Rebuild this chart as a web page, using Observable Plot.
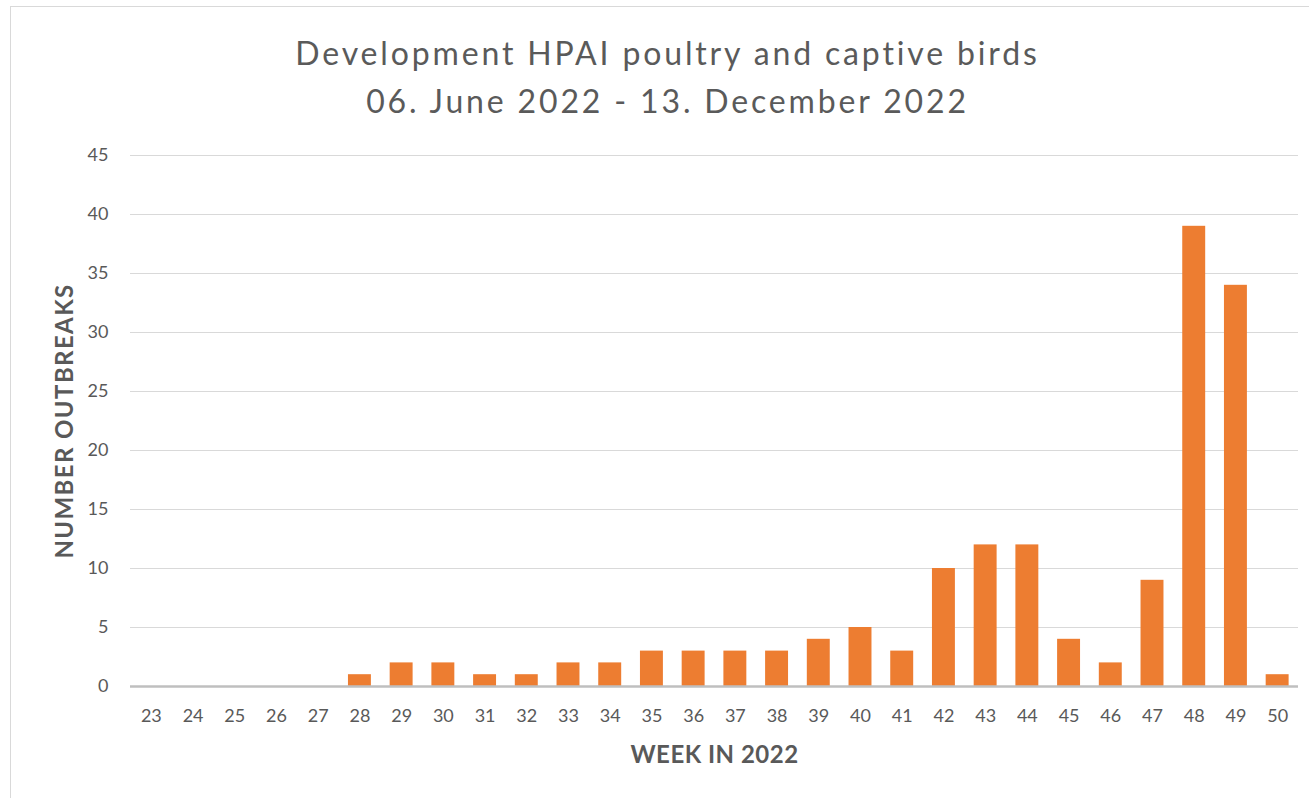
<!DOCTYPE html>
<html>
<head>
<meta charset="utf-8">
<script src="https://cdn.jsdelivr.net/npm/d3@7"></script>
<script src="https://cdn.jsdelivr.net/npm/@observablehq/plot@0.6"></script>
<style>
  body { margin: 0; background: #fff; font-family: Lato, "Open Sans", sans-serif; }
  #wrap { position: relative; width: 1309px; height: 798px; overflow: hidden; }
  #border { position: absolute; left: 10px; top: 6px; width: 1320px; height: 800px; border: 1.5px solid #d9d9d9; box-sizing: border-box; }
  .title { position: absolute; left: 0; width: 1335px; text-align: center; font-size: 32px; color: #5a5a5a; letter-spacing: 2.85px; font-family: Lato, "Open Sans", sans-serif; font-weight: 400; line-height: 1; }
  #chart { position: absolute; left: 0; top: 0; }
  .ylab text { letter-spacing: 1.4px; }
  .xlab text { letter-spacing: 0.5px; }
</style>
</head>
<body>
<div id="wrap">
  <div id="border"></div>
  <div class="title" id="t1" style="top:37px"></div>
  <div class="title" id="t2" style="top:85px"></div>
  <div id="chart"></div>
</div>
<script>
const weeks = [23,24,25,26,27,28,29,30,31,32,33,34,35,36,37,38,39,40,41,42,43,44,45,46,47,48,49,50];
const outbreaks = [0,0,0,0,0,1,2,2,1,1,2,2,3,3,3,3,4,5,3,10,12,12,4,2,9,39,34,1];
const yTicks = [0,5,10,15,20,25,30,35,40,45];
const titleLines = ["Development HPAI poultry and captive birds", "06. June 2022 - 13. December 2022"];
const xLabel = "WEEK IN 2022";
const yLabel = "NUMBER OUTBREAKS";

document.getElementById("t1").textContent = titleLines[0];
document.getElementById("t2").textContent = titleLines[1];

const data = weeks.map((w, i) => ({week: String(w), value: outbreaks[i]}));

const chart = Plot.plot({
  width: 1309,
  height: 798,
  marginTop: 155,
  marginBottom: 112,
  marginLeft: 130,
  marginRight: 11,
  style: {background: "transparent", fontFamily: "Lato, 'Open Sans', sans-serif", fontSize: "18px", color: "#595959", overflow: "visible"},
  x: {domain: weeks.map(String), paddingInner: 0.45, paddingOuter: 0.225, align: 0.5, round: false, label: null},
  y: {domain: [0, 45], label: null},
  marks: [
    Plot.gridY(yTicks, {stroke: "#d9d9d9", strokeOpacity: 1, strokeWidth: 1}),
    Plot.barY(data, {x: "week", y: "value", fill: "#ED7D31"}),
    Plot.ruleY([0], {stroke: "#bfbfbf", strokeWidth: 2.5}),
    Plot.axisX({tickSize: 0, tickPadding: 23, fontSize: 18, fill: "#595959", label: null}),
    Plot.axisY(yTicks, {tickSize: 0, tickPadding: 22, fontSize: 18, fill: "#595959", label: null}),
    Plot.text([xLabel], {className: "xlab", frameAnchor: "bottom", lineAnchor: "middle", textAnchor: "middle", dy: 69, text: d => d, fontSize: 24, fontWeight: "bold", fill: "#595959"}),
    Plot.text([yLabel], {className: "ylab", frameAnchor: "left", lineAnchor: "middle", textAnchor: "middle", dx: -65, rotate: -90, text: d => d, fontSize: 24, fontWeight: "bold", fill: "#595959"})
  ]
});
document.getElementById("chart").appendChild(chart);
</script>
</body>
</html>
